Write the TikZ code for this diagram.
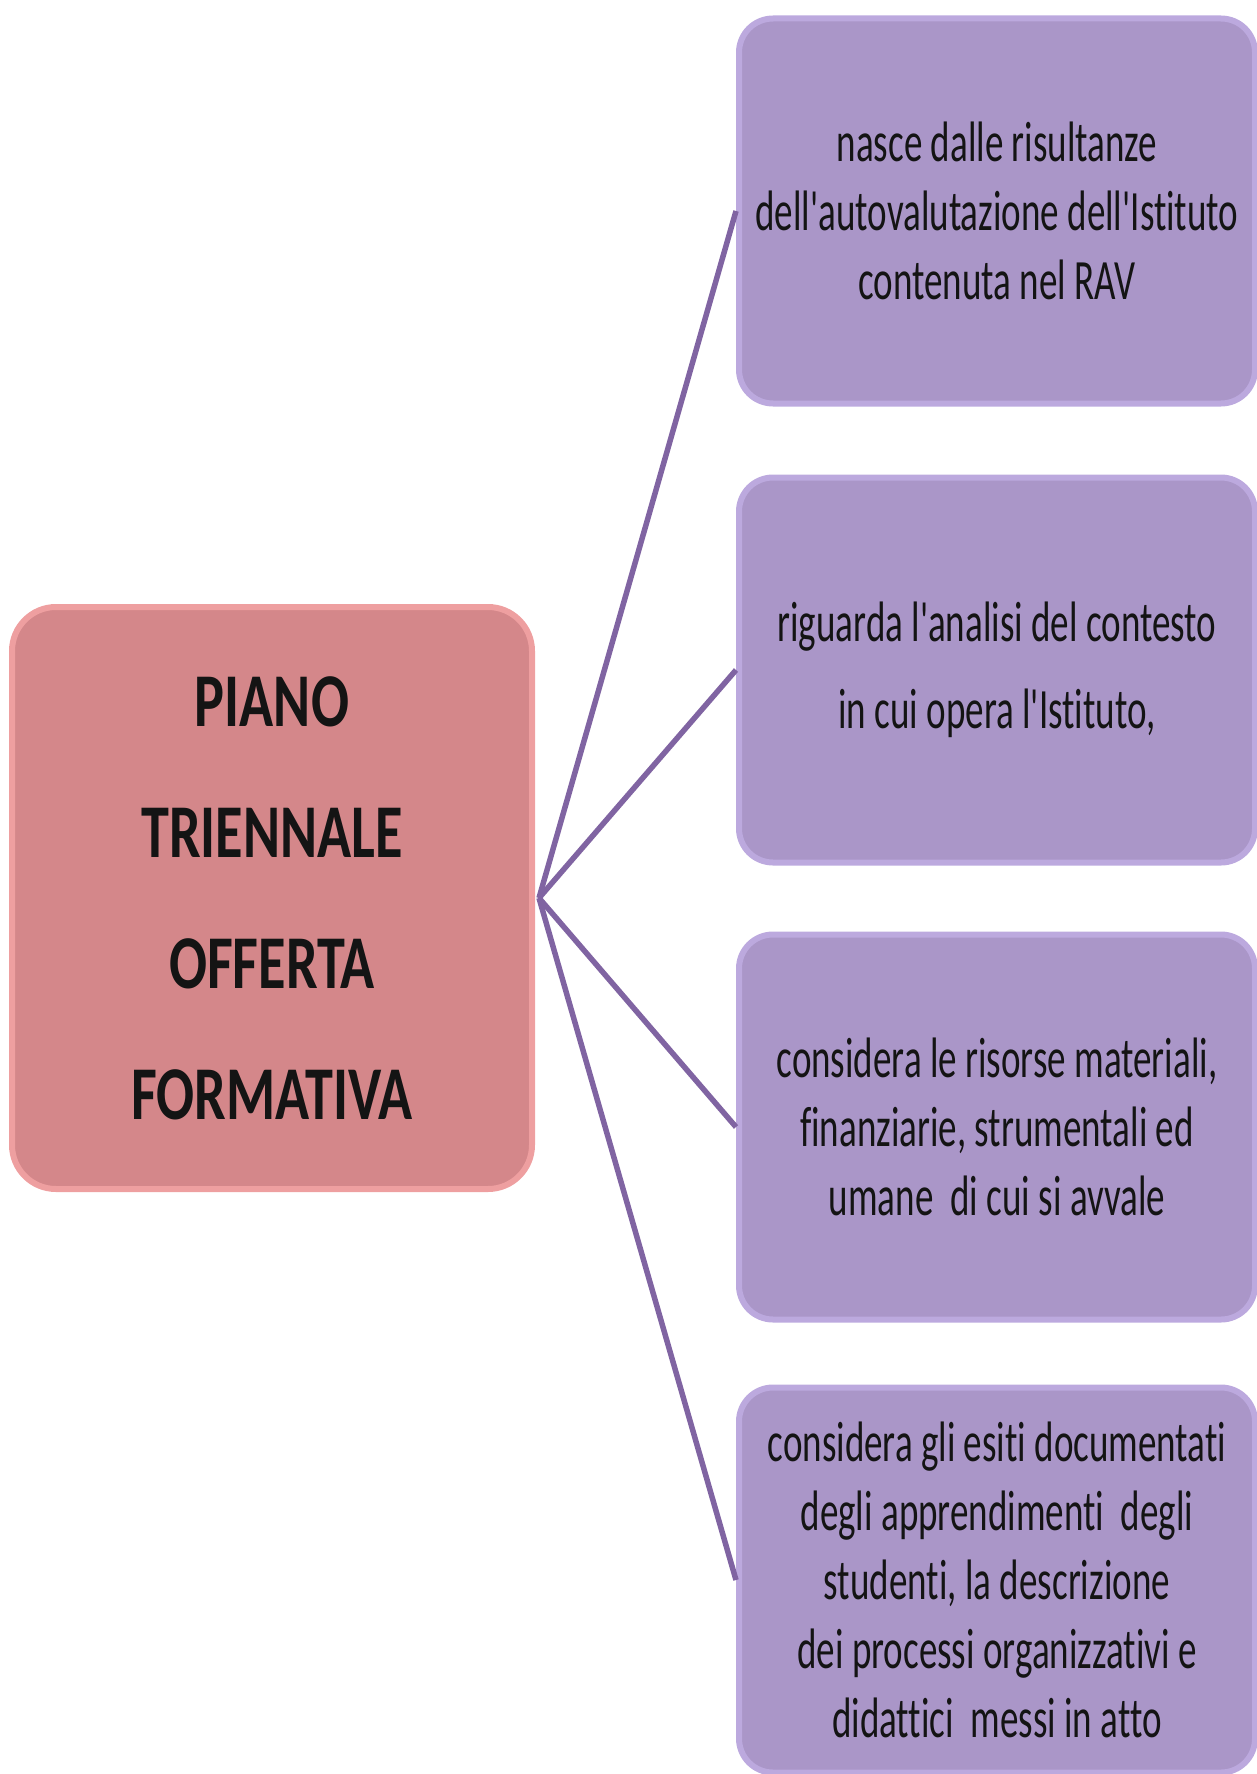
\documentclass[tikz,border=0pt]{standalone}
\usepackage{fontspec}
\newfontfamily\cfont{Carlito}[FakeStretch=0.74,Ligatures=NoCommon]
\newfontfamily\pfont{Carlito}[FakeStretch=0.65,Ligatures=NoCommon]
\definecolor{pinkfill}{HTML}{D4878A}
\definecolor{pinkedge}{HTML}{EE9FA0}
\definecolor{purfill}{HTML}{AA96C8}
\definecolor{puredge}{HTML}{BCA9DE}
\definecolor{linkcol}{HTML}{8064A2}
\definecolor{txt}{HTML}{141414}
\begin{document}
\begin{tikzpicture}[x=1pt,y=-1pt,
  mainbox/.style={rounded corners=44pt, fill=pinkfill, draw=pinkedge, line width=6pt,
    minimum width=520pt, minimum height=582pt, align=center, text=txt,
    font=\cfont\bfseries\fontsize{76}{131}\selectfont},
  subbox/.style={rounded corners=34pt, fill=purfill, draw=puredge, line width=6pt,
    minimum width=516pt, minimum height=385pt, align=center, text=txt,
    font=\pfont\fontsize{57}{69}\selectfont},
  link/.style={draw=linkcol, line width=5.5pt}]
\useasboundingbox (0,0) rectangle (1257,1774);
\node[mainbox] (c) at (272,898) {PIANO\\TRIENNALE\\OFFERTA\\FORMATIVA};
\node[subbox] (b1) at (997,211) {nasce dalle risultanze\\dell'autovalutazione dell'Istituto\\contenuta nel RAV};
\node[subbox, font=\pfont\fontsize{57}{87}\selectfont] (b2) at (997,670) {riguarda l'analisi del contesto\\in cui opera l'Istituto,};
\node[subbox] (b3) at (997,1127) {considera le risorse materiali,\\finanziarie, strumentali ed\\umane\ \ di cui si avvale};
\node[subbox] (b4) at (997,1580) {considera gli esiti documentati\\degli apprendimenti\ \ degli\\studenti, la descrizione\\dei processi organizzativi e\\didattici\ \ messi in atto};
\coordinate (hub) at ([xshift=4pt]c.east);
\draw[link] (hub) -- (b1.west);
\draw[link] (hub) -- (b2.west);
\draw[link] (hub) -- (b3.west);
\draw[link] (hub) -- (b4.west);
\end{tikzpicture}
\end{document}
